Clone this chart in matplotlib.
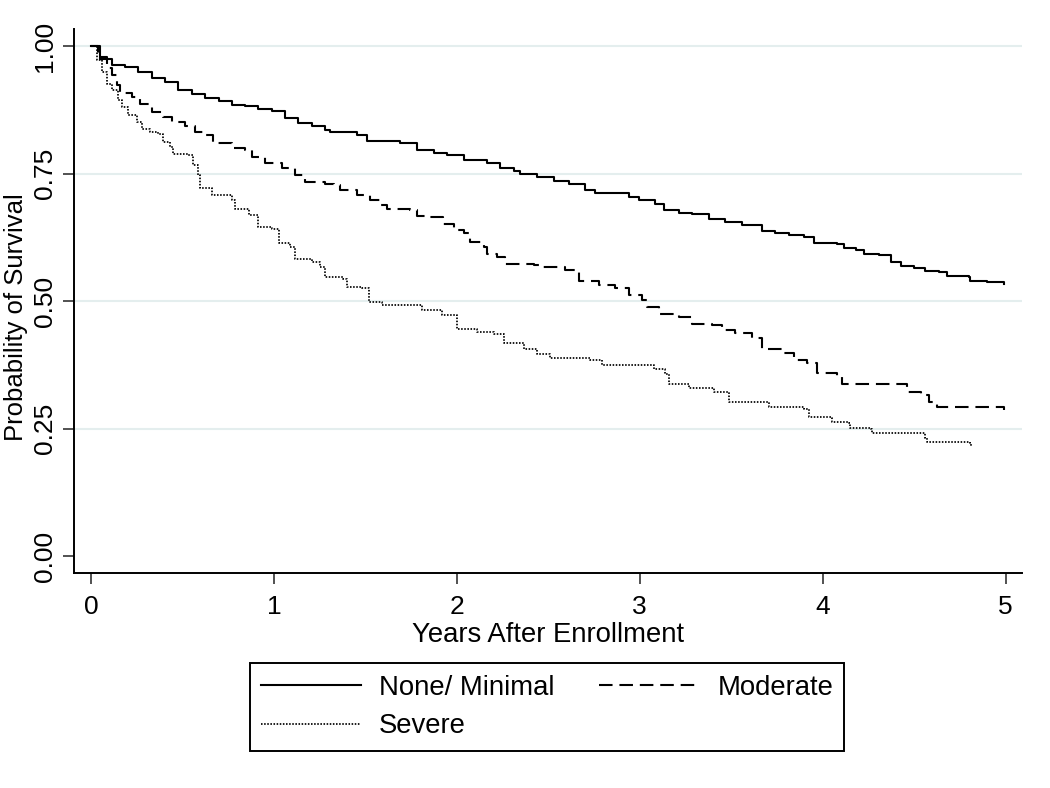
import matplotlib
matplotlib.use("Agg")
import matplotlib.pyplot as plt

plt.rcParams["font.family"] = ["Liberation Sans", "DejaVu Sans"]

# Kaplan-Meier step points (years, survival)
none_t = [0, 0.049, 0.113, 0.186, 0.259, 0.332, 0.405, 0.478, 0.551, 0.624, 0.697,
          0.770, 0.843, 0.915, 0.988, 1.061, 1.134, 1.207, 1.280, 1.307, 1.453, 1.508,
          1.690, 1.782, 1.873, 1.946, 2.037, 2.165, 2.237, 2.310, 2.347, 2.438, 2.529,
          2.611, 2.702, 2.757, 2.939, 2.994, 3.085, 3.131, 3.213, 3.286, 3.377, 3.468,
          3.560, 3.669, 3.742, 3.815, 3.897, 3.951, 4.079, 4.116, 4.180, 4.225, 4.307,
          4.371, 4.426, 4.498, 4.562, 4.635, 4.681, 4.799, 4.808, 4.900, 4.991]
none_s = [1.0, 0.975, 0.962, 0.959, 0.949, 0.938, 0.930, 0.913, 0.905, 0.899, 0.892,
          0.885, 0.883, 0.877, 0.873, 0.858, 0.849, 0.843, 0.836, 0.831, 0.825, 0.814,
          0.809, 0.797, 0.790, 0.786, 0.777, 0.770, 0.760, 0.755, 0.750, 0.743, 0.736,
          0.729, 0.717, 0.711, 0.705, 0.699, 0.691, 0.678, 0.672, 0.670, 0.660, 0.655,
          0.649, 0.637, 0.634, 0.629, 0.626, 0.613, 0.611, 0.605, 0.601, 0.592, 0.590,
          0.577, 0.568, 0.564, 0.559, 0.557, 0.549, 0.547, 0.539, 0.538, 0.534]

mod_t = [0, 0.040, 0.086, 0.113, 0.140, 0.159, 0.223, 0.268, 0.332, 0.396, 0.441,
         0.514, 0.569, 0.624, 0.669, 0.770, 0.842, 0.879, 0.952, 1.043, 1.116, 1.171,
         1.280, 1.326, 1.362, 1.453, 1.526, 1.581, 1.618, 1.745, 1.782, 1.855, 1.927,
         1.982, 2.037, 2.073, 2.146, 2.165, 2.219, 2.265, 2.420, 2.456, 2.566, 2.593,
         2.666, 2.775, 2.867, 2.939, 3.013, 3.040, 3.103, 3.213, 3.286, 3.395, 3.450,
         3.523, 3.614, 3.669, 3.778, 3.842, 3.915, 3.970, 4.079, 4.107, 4.416, 4.462,
         4.535, 4.580, 4.626, 4.991]
mod_s = [1.0, 0.978, 0.956, 0.943, 0.923, 0.908, 0.900, 0.887, 0.871, 0.860, 0.851,
         0.843, 0.831, 0.825, 0.809, 0.801, 0.796, 0.783, 0.770, 0.760, 0.747, 0.733,
         0.730, 0.727, 0.717, 0.707, 0.698, 0.688, 0.681, 0.679, 0.666, 0.664, 0.652,
         0.639, 0.634, 0.616, 0.606, 0.592, 0.587, 0.572, 0.570, 0.567, 0.566, 0.560,
         0.540, 0.531, 0.525, 0.511, 0.502, 0.489, 0.474, 0.469, 0.456, 0.453, 0.443,
         0.438, 0.427, 0.407, 0.398, 0.384, 0.379, 0.359, 0.353, 0.338, 0.337, 0.322,
         0.316, 0.302, 0.293, 0.287]

sev_t = [0, 0.031, 0.058, 0.086, 0.113, 0.150, 0.168, 0.204, 0.250, 0.277, 0.323,
         0.368, 0.396, 0.432, 0.450, 0.532, 0.560, 0.587, 0.596, 0.660, 0.770, 0.788,
         0.861, 0.915, 0.988, 1.025, 1.089, 1.116, 1.207, 1.253, 1.280, 1.380, 1.399,
         1.481, 1.517, 1.590, 1.809, 1.918, 2.000, 2.110, 2.201, 2.256, 2.365, 2.438,
         2.511, 2.730, 2.794, 3.076, 3.140, 3.158, 3.268, 3.404, 3.486, 3.705, 3.897,
         3.924, 4.043, 4.052, 4.143, 4.152, 4.262, 4.271, 4.535, 4.562, 4.572, 4.808,
         4.812]
sev_s = [1.0, 0.972, 0.949, 0.926, 0.913, 0.894, 0.880, 0.864, 0.851, 0.838, 0.831,
         0.828, 0.812, 0.802, 0.788, 0.786, 0.766, 0.747, 0.721, 0.707, 0.698, 0.681,
         0.668, 0.645, 0.642, 0.613, 0.606, 0.583, 0.577, 0.567, 0.547, 0.544, 0.528,
         0.525, 0.498, 0.492, 0.483, 0.472, 0.446, 0.440, 0.435, 0.417, 0.407, 0.397,
         0.389, 0.384, 0.374, 0.366, 0.358, 0.338, 0.329, 0.322, 0.302, 0.293, 0.289,
         0.272, 0.270, 0.263, 0.261, 0.252, 0.250, 0.242, 0.242, 0.231, 0.224, 0.222,
         0.214]

labels = ["None/ Minimal", "Moderate", "Severe"]
x_ticks = [0, 1, 2, 3, 4, 5]
y_ticks = [0.0, 0.25, 0.5, 0.75, 1.0]

fig = plt.figure(figsize=(10.5, 7.88), dpi=100)
ax = fig.add_axes([0.0705, 0.2728, 0.9025, 0.6902])

for y in y_ticks[1:]:
    ax.axhline(y, color="#e4eeee", lw=1.5, zorder=0)

l1, = ax.step(none_t, none_s, where="post", color="black", lw=1.5, label=labels[0])
l2, = ax.step(mod_t, mod_s, where="post", color="black", lw=1.5,
              linestyle=(0, (6.5, 3.3)), label=labels[1])
l3, = ax.step(sev_t, sev_s, where="post", color="black", lw=1.25,
              linestyle=(0, (0.9, 0.9)), label=labels[2])

ax.set_xlim(-0.093, 5.088)
ax.set_ylim(-0.033, 1.033)
ax.set_xticks(x_ticks)
ax.set_yticks(y_ticks)
ax.set_yticklabels([f"{v:.2f}" for v in y_ticks], rotation=90, va="center")
ax.tick_params(labelsize=19, length=8, width=1.2, color="#333333")
ax.tick_params(axis="y", pad=4)
ax.tick_params(axis="x", pad=8)

for s in ["top", "right"]:
    ax.spines[s].set_visible(False)
for s in ["left", "bottom"]:
    ax.spines[s].set_linewidth(1.4)

ax.set_xlabel("Years After Enrollment", fontsize=19.8, labelpad=2)
ax.set_ylabel("Probability of Survival", fontsize=18.5)
ax.yaxis.set_label_coords(-0.049, 0.47)

leg = fig.legend([l1, l3, l2], [labels[0], labels[2], labels[1]], ncol=2,
                 loc="center", bbox_to_anchor=(547 / 1050, 1 - 707 / 788),
                 fontsize=19.8, handlelength=3.64, handletextpad=0.65,
                 columnspacing=1.64, labelspacing=0.47, borderpad=0.41,
                 fancybox=False, framealpha=1, edgecolor="black")
leg.get_frame().set_linewidth(1.4)

fig.savefig("out.png", dpi=100, facecolor="white")
